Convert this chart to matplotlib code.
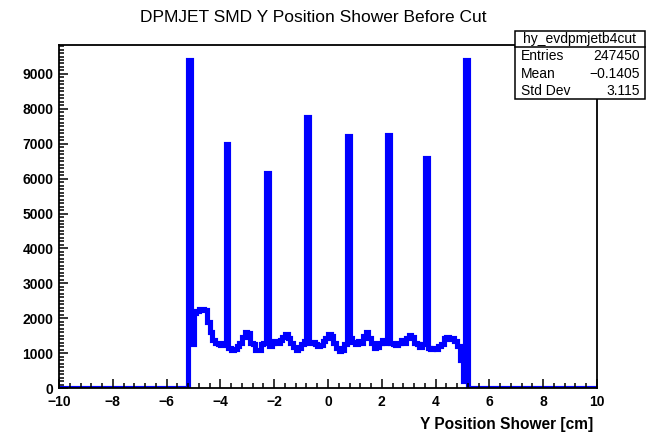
import matplotlib
matplotlib.use('Agg')
import matplotlib.pyplot as plt
import matplotlib.transforms as mtransforms
import numpy as np
from matplotlib.patches import Rectangle
from matplotlib.ticker import MultipleLocator

plt.rcParams['font.family'] = ['Liberation Sans', 'DejaVu Sans']

# ── Histogram data (200 bins, -10 to 10 cm) ─────────────────────────────────
X_MIN, X_MAX, N_BINS = -10.0, 10.0, 200

left_empty = [0] * 48
shower_counts = [
    9400, 1250, 2150, 2200, 2250, 2250, 2230, 1900, 1600, 1380,   # 48-57
    1300, 1250, 1240, 1280, 7000, 1150, 1100, 1120, 1200, 1300,   # 58-67
    1450, 1600, 1580, 1300, 1250, 1100, 1080, 1250, 1300, 6150,   # 68-77
    1200, 1280, 1350, 1280, 1380, 1450, 1550, 1420, 1300, 1180,   # 78-87
    1100, 1150, 1250, 1350, 7780, 1300, 1320, 1250, 1200, 1230,   # 88-97
    1350, 1420, 1550, 1500, 1300, 1150, 1050, 1080, 1250, 7220,   # 98-107
    1420, 1320, 1250, 1350, 1300, 1500, 1600, 1430, 1300, 1150,   # 108-117
    1180, 1300, 1380, 1280, 7250, 1300, 1250, 1230, 1300, 1380,   # 118-127
    1300, 1420, 1520, 1450, 1300, 1250, 1180, 1250, 6600, 1150,   # 128-137
    1130, 1150, 1120, 1200, 1250, 1420, 1450, 1400, 1420, 1350,   # 138-147
    1200, 800, 200, 9400,                                         # 148-151
]
right_empty = [0] * 48
counts = np.array(left_empty + shower_counts + right_empty, dtype=float)

stats_name = 'hy_evdpmjetb4cut'
stats_rows = [('Entries', '247450'), ('Mean', '\u22120.1405'), ('Std Dev', '3.115')]

# ── Figure ──────────────────────────────────────────────────────────────────
W, H = 646, 433
fig = plt.figure(figsize=(W / 100, H / 100), dpi=100)
ax = fig.add_axes([59 / W, 1 - 388 / H, (597 - 59) / W, (388 - 45) / H])

edges = np.linspace(X_MIN, X_MAX, N_BINS + 1)
step = ax.stairs(counts, edges, baseline=0, color='#0000ff', linewidth=3.7)
step.set_joinstyle('miter')

ax.set_xlim(X_MIN, X_MAX)
ax.set_ylim(0, 9830)

ax.xaxis.set_major_locator(MultipleLocator(2))
ax.xaxis.set_minor_locator(MultipleLocator(0.4))
ax.yaxis.set_major_locator(MultipleLocator(1000))
ax.yaxis.set_minor_locator(MultipleLocator(100))
ax.tick_params(which='both', direction='in', top=False, right=False, width=1.1, colors='black')
ax.tick_params(which='major', length=6.5)
ax.tick_params(which='minor', length=3.3)
ax.tick_params(axis='x', pad=5)
ax.tick_params(axis='y', pad=4)
for lab in ax.get_xticklabels() + ax.get_yticklabels():
    lab.set_fontweight('bold')
    lab.set_fontsize(10)
# lift the "0" label slightly so it clears the "-10" below it
fig.canvas.draw()
zero_lab = ax.get_yticklabels()[0]
zero_lab.set_transform(zero_lab.get_transform() +
                       mtransforms.ScaledTranslation(0, 2 / 100, fig.dpi_scale_trans))
for s in ax.spines.values():
    s.set_linewidth(1.3)
    s.set_zorder(3)

fig.text(313 / W, 1 - 17 / H, 'DPMJET SMD Y Position Shower Before Cut',
         ha='center', va='center', fontsize=12.5)
fig.text(593 / W, 1 - 424 / H, 'Y Position Shower [cm]',
         ha='right', va='center', fontsize=11.2, fontweight='bold')

# ── Stats box ───────────────────────────────────────────────────────────────
bx0, bx1, by0, by1 = 515, 645, 31, 99
fig.patches.append(Rectangle((bx0 / W, 1 - by1 / H), (bx1 - bx0) / W, (by1 - by0) / H,
                             transform=fig.transFigure, facecolor='white',
                             edgecolor='black', linewidth=1.1, zorder=5))
sep_y = 1 - 47 / H
fig.add_artist(plt.Line2D([bx0 / W, bx1 / W], [sep_y, sep_y], transform=fig.transFigure,
                          color='black', linewidth=1.1, zorder=6))
fig.text((bx0 + bx1) / 2 / W, 1 - 39 / H, stats_name, ha='center', va='center',
         fontsize=10, zorder=7)
for k, (name, val) in enumerate(stats_rows):
    yy = 1 - (56.5 + 17.3 * k) / H
    fig.text(521 / W, yy, name, ha='left', va='center', fontsize=10, zorder=7)
    fig.text(640 / W, yy, val, ha='right', va='center', fontsize=10, zorder=7)

fig.savefig('out.png', dpi=100)
